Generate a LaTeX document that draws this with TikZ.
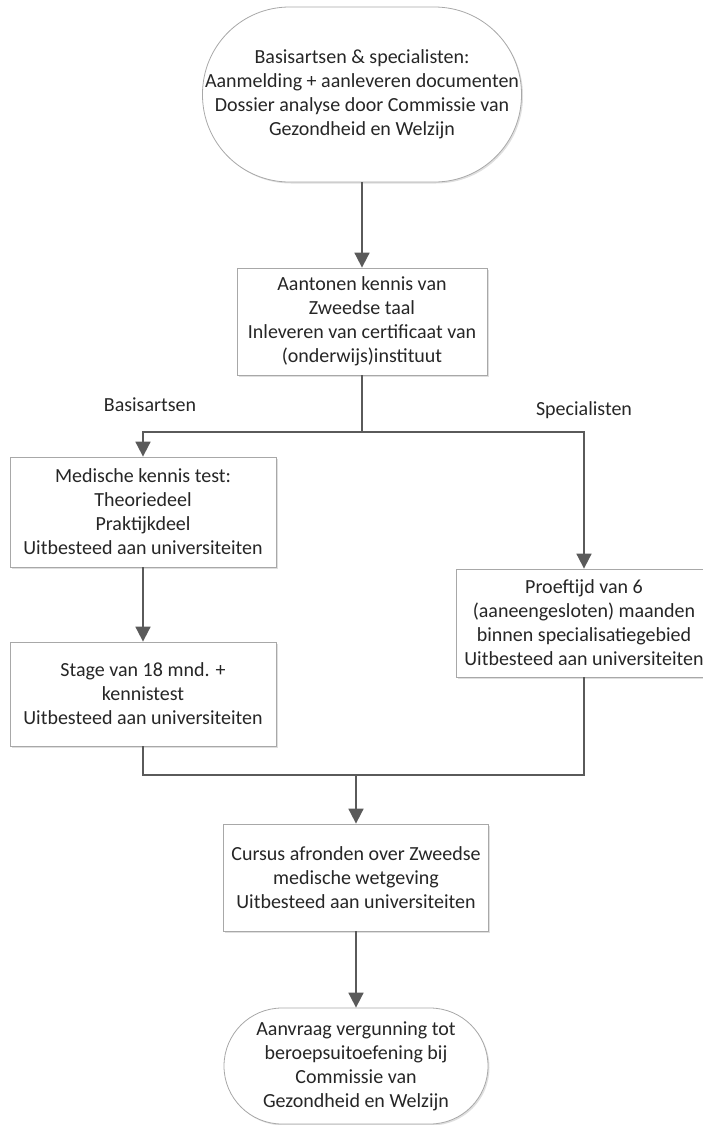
\documentclass[tikz,border=0pt]{standalone}
\usepackage{fontspec}
\setmainfont{Carlito}
\usetikzlibrary{arrows.meta,shadows}
\definecolor{txt}{HTML}{262626}
\definecolor{ln}{HTML}{5A5A5A}
\definecolor{bd}{HTML}{A8A8A8}
\begin{document}
\begin{tikzpicture}[x=1pt,y=-1pt,
  font=\fontsize{20}{24}\selectfont, text=txt,
  box/.style={draw=bd, line width=0.8pt, fill=white, align=center, inner sep=0pt,
    drop shadow={shadow xshift=1.5pt, shadow yshift=-1.5pt, opacity=0.25, fill=gray}},
  term/.style={box},
  conn/.style={draw=ln, line width=1.8pt},
  arr/.style={conn, -{Triangle[length=15pt,width=15pt]}},
  lbl/.style={inner sep=0pt}]
\useasboundingbox (0,0) rectangle (703,1125);

\node[term, rounded corners=87pt, minimum width=319pt, minimum height=175pt] (top) at (362,94.5)
  {Basisartsen \& specialisten:\\Aanmelding + aanleveren documenten\\Dossier analyse door Commissie van\\Gezondheid en Welzijn};

\node[box, minimum width=250pt, minimum height=107pt] (b2) at (362,321.5)
  {Aantonen kennis van\\Zweedse taal\\Inleveren van certificaat van\\(onderwijs)instituut};

\node[box, minimum width=266pt, minimum height=110pt] (b3) at (143,512)
  {Medische kennis test:\\Theoriedeel\\Praktijkdeel\\Uitbesteed aan universiteiten};

\node[box, minimum width=266pt, minimum height=104pt] (b4) at (143,694)
  {Stage van 18 mnd. +\\kennistest\\Uitbesteed aan universiteiten};

\node[box, minimum width=256pt, minimum height=108pt] (sp) at (584,623)
  {Proeftijd van 6\\(aaneengesloten) maanden\\binnen specialisatiegebied\\Uitbesteed aan universiteiten};

\node[box, minimum width=265pt, minimum height=107pt] (b5) at (356,877.5)
  {Cursus afronden over Zweedse\\medische wetgeving\\Uitbesteed aan universiteiten};

\node[term, rounded corners=58pt, minimum width=264pt, minimum height=116pt] (bot) at (356,1066)
  {Aanvraag vergunning tot\\beroepsuitoefening bij\\Commissie van\\Gezondheid en Welzijn};

\node[lbl] (lb) at (150,405) {Basisartsen};
\node[lbl] (ls) at (584,410) {Specialisten};

\coordinate (j1) at (362,432);
\coordinate (j2) at (356,775);

\draw[arr] (top.south) -- (b2.north);
\draw[conn] (b2.south) -- (j1);
\draw[arr] (j1) -| (b3.north);
\draw[arr] (j1) -| (sp.north);
\draw[arr] (b3.south) -- (b4.north);
\draw[conn] (b4.south) |- (j2) -| (sp.south);
\draw[arr] (j2) -- (b5.north);
\draw[arr] (b5.south) -- (bot.north);
\end{tikzpicture}
\end{document}
